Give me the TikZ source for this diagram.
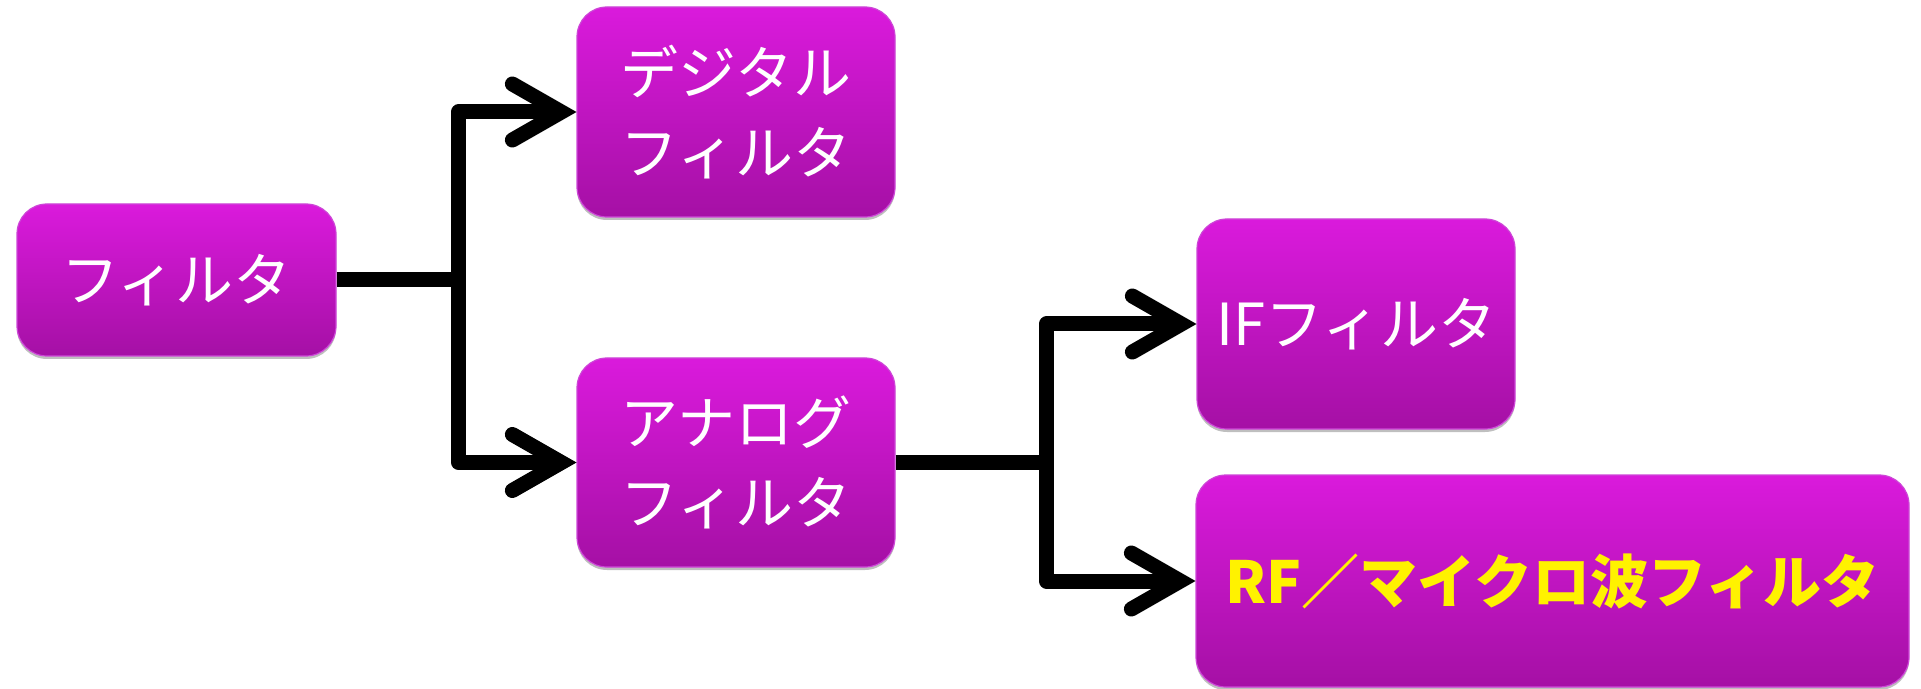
\documentclass[tikz,border=0pt]{standalone}
\usepackage{fontspec}
\newfontfamily\jp{Noto Sans CJK JP}
\usetikzlibrary{shadows}
\definecolor{boxtop}{RGB}{218,26,220}
\definecolor{boxbot}{RGB}{165,16,165}
\definecolor{boxedge}{RGB}{205,70,215}
\tikzset{
  fbox/.style={rounded corners=15pt, top color=boxtop, bottom color=boxbot,
    draw=boxedge, line width=0.6pt, text=white,
    font=\jp\fontsize{29}{40}\selectfont, align=center, inner sep=0pt,
    drop shadow={shadow xshift=0pt, shadow yshift=-1.5pt, opacity=0.25, fill=black}},
  conn/.style={line width=7.5pt, line join=round},
  chev/.style={line width=7.5pt, line cap=round, line join=miter},
}
\newcommand\chevtip[1]{%
  \draw[chev] ([xshift=-32pt,yshift=14pt]#1.west) -- ([xshift=-7.5pt]#1.west) -- ([xshift=-32pt,yshift=-14pt]#1.west);}
\begin{document}
\begin{tikzpicture}[x=0.5pt,y=-0.5pt]
\useasboundingbox (0,0) rectangle (1921,689);
\node[fbox, minimum width=159.5pt, minimum height=76pt] (filt) at (176.5,280) {フィルタ};
\node[fbox, minimum width=159pt, minimum height=105pt] (dig) at (736,112) {デジタル\\フィルタ};
\node[fbox, minimum width=159pt, minimum height=104.5pt] (ana) at (736,462.5) {アナログ\\フィルタ};
\node[fbox, minimum width=159pt, minimum height=105pt] (ifb) at (1356,324) {IFフィルタ};
\node[fbox, minimum width=356.5pt, minimum height=106pt] (rfb) at (1552.5,581) {\bfseries\color{yellow}RF／マイクロ波フィルタ};
\coordinate (j1) at ([xshift=61pt]filt.east);
\coordinate (j2) at ([xshift=75.5pt]ana.east);
\draw[conn] (filt.east) -- (j1);
\draw[conn] ([xshift=-7.5pt]dig.west) -| (j1) |- ([xshift=-7.5pt]ana.west);
\draw[conn] (ana.east) -- (j2);
\draw[conn] ([xshift=-7.5pt]ifb.west) -| (j2) |- ([xshift=-7.5pt]rfb.west);
\chevtip{dig}
\chevtip{ana}
\chevtip{ifb}
\chevtip{rfb}
\end{tikzpicture}
\end{document}
